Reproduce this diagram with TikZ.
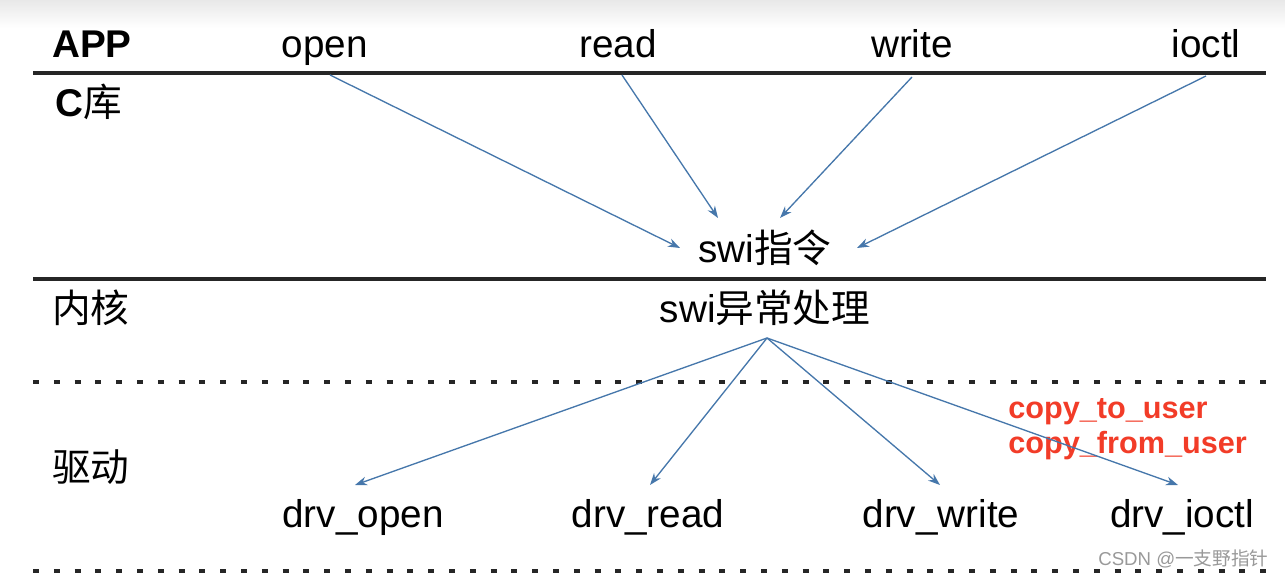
\documentclass[tikz,border=0pt]{standalone}
\usepackage{fontspec}
\setmainfont{Liberation Sans}
\newfontfamily\cjk{Noto Sans CJK SC}
\usetikzlibrary{arrows.meta,calc}
\definecolor{arrblue}{HTML}{4677AB}
\definecolor{hotred}{HTML}{F23C28}

\begin{document}
\begin{tikzpicture}[x=0.75pt,y=-0.75pt,>=Stealth,
 font=\fontsize{29}{34}\selectfont,
 txt/.style={anchor=base,inner sep=0},
 lay/.style={anchor=base west,inner sep=0},
 arr/.style={->,draw=arrblue,line width=1pt,>={Stealth[length=9pt,width=6.5pt]}},
 sepline/.style={line width=2.4pt,black!85},
 dotline/.style={line width=2.6pt,black!85,dash pattern=on 4.5pt off 11.1pt}]
\useasboundingbox (0,0) rectangle (1285,577);
\fill[top color=black!9,bottom color=white,draw=none] (0,0) rectangle (1285,28);
% layer names
\node[lay,font=\fontsize{29}{34}\selectfont\bfseries] (app) at (52,58) {APP};
\node[lay] (clib) at (55,117) {\textbf{C}{\cjk 库}};
\node[lay] (kern) at (52,323) {\cjk 内核};
\node[lay] (drv) at (52,481) {\cjk 驱动};
% user calls
\node[txt] (open) at (325,58) {open};
\node[txt] (read) at (618,58) {read};
\node[txt] (write) at (912,58) {write};
\node[txt] (ioctl) at (1206,58) {ioctl};
\node[txt] (swi) at (765,263) {swi{\cjk 指令}};
\node[txt] (exc) at (765,322) {swi{\cjk 异常处理}};
% driver functions
\node[txt] (dopen) at (363,527) {drv\_open};
\node[txt] (dread) at (648,527) {drv\_read};
\node[txt] (dwrite) at (941,527) {drv\_write};
\node[txt] (dioctl) at (1182,527) {drv\_ioctl};
\node[lay,text=hotred,font=\fontsize{23}{27}\selectfont\bfseries] (cpto) at (1008,418) {copy\_to\_user};
\node[lay,text=hotred,font=\fontsize{23}{27}\selectfont\bfseries] (cpfrom) at (1008,453) {copy\_from\_user};
\node[lay,text=black!40,font=\fontsize{14}{16}\selectfont] (mark) at (1098,565) {CSDN @{\cjk 一支野指针}};
% separators
\draw[sepline] (33,73) -- (1266,73);
\draw[sepline] (33,279) -- (1266,279);
\draw[dotline] (33,382) -- (1266,382);
\draw[dotline] (33,571) -- (1266,571);
% calls into swi
\draw[arr] ($(open.base)+(5,17)$) -- ($(swi.base)+(-85,-15)$);
\draw[arr] ($(read.base)+(4,17)$) -- ($(swi.base)+(-47,-45)$);
\draw[arr] ($(write.base)+(0,19)$) -- ($(swi.base)+(15,-45)$);
\draw[arr] ($(ioctl.base)+(0,18)$) -- ($(swi.base)+(92,-15)$);
% dispatch to drivers
\foreach \d/\dx in {dopen/-8,dread/2,dwrite/-1,dioctl/-4}
 \draw[arr] ($(exc.base)+(2,16)$) -- ($(\d.base)+(\dx,-42)$);
\end{tikzpicture}
\end{document}
